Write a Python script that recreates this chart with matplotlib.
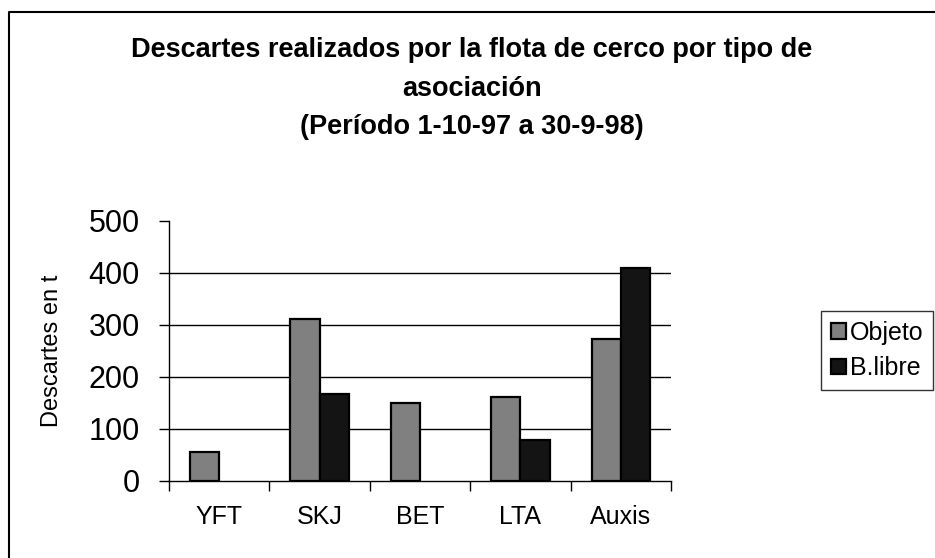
import matplotlib.pyplot as plt
import numpy as np
from matplotlib.lines import Line2D

plt.rcParams['font.family'] = ['Liberation Sans', 'DejaVu Sans']

# datos (t)
especies = ['YFT', 'SKJ', 'BET', 'LTA', 'Auxis']
objeto = [56, 312, 149, 161, 272]
libre = [0, 168, 0, 79, 410]
yticks = [0, 100, 200, 300, 400, 500]

titulo = ['Descartes realizados por la flota de cerco por tipo de',
          'asociación',
          '(Período 1-10-97 a 30-9-98)']

W, H = 935, 558
fig = plt.figure(figsize=(W / 100, H / 100), dpi=100)
ax = fig.add_axes([169 / W, 1 - 481 / H, (671 - 169) / W, (481 - 220.7) / H])

x = np.arange(len(especies))
ancho = 0.29
ax.bar(x - ancho / 2, objeto, ancho, color='#808080', edgecolor='black',
       linewidth=1.6, label='Objeto', zorder=3)
ax.bar(x + ancho / 2, [v if v > 0 else np.nan for v in libre], ancho,
       color='#141414', edgecolor='black', linewidth=1.6, label='B.libre', zorder=3)

ax.set_xlim(-0.5, len(especies) - 0.5)
ax.set_ylim(0, 500)
ax.set_yticks(yticks)
ax.set_yticklabels([str(v) for v in yticks], fontsize=22)

# etiquetas en el centro, marcas en los limites de cada categoria
ax.set_xticks(x)
ax.set_xticklabels(especies, fontsize=18)
ax.set_xticks(np.arange(len(especies) + 1) - 0.5, minor=True)
ax.tick_params(axis='x', which='major', length=0, pad=17)
ax.tick_params(axis='x', which='minor', length=7, width=1, direction='out')
ax.tick_params(axis='y', length=7, width=1, direction='out', pad=14)

# lineas horizontales (sin la de 500)
for v in yticks[1:-1]:
    ax.axhline(v, color='black', linewidth=1, zorder=1)

ax.spines['top'].set_visible(False)
ax.spines['right'].set_visible(False)
for s in ['left', 'bottom']:
    ax.spines[s].set_linewidth(1)

ax.set_ylabel('Descartes en t', fontsize=17)
ax.yaxis.set_label_coords(-(169 - 52) / (671 - 169), 0.5)
ax.yaxis.label.set_va('center')

# titulo en tres lineas
for t, base in zip(titulo, [57, 96, 134]):
    fig.text(0.5 * (9 + W) / W, 1 - base / H, t, ha='center', va='baseline',
             fontsize=19.5, fontweight='bold')

leg = ax.legend(loc='upper left', bbox_to_anchor=(821 / W, 1 - 311 / H),
                bbox_transform=fig.transFigure, fontsize=18, frameon=True,
                fancybox=False, edgecolor='black', handlelength=0.6,
                handleheight=0.6, handletextpad=0.15, borderaxespad=0,
                borderpad=0.4, labelspacing=0.45)
leg.get_frame().set_linewidth(1)

# marco exterior (solo izquierda y arriba)
fig.add_artist(Line2D([9 / W, 9 / W, 1], [0, 1 - 11.7 / H, 1 - 11.7 / H],
                      transform=fig.transFigure, color='black', linewidth=1.5))

fig.savefig('out.png', dpi=100)
